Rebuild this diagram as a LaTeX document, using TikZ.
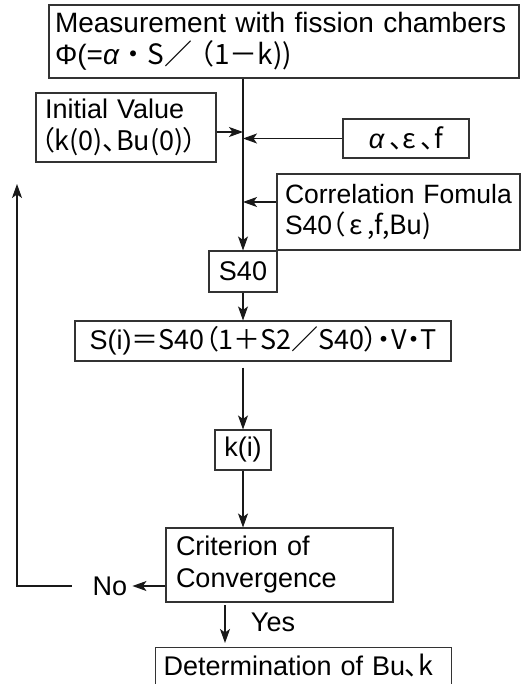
\documentclass[tikz,border=0pt]{standalone}
\usepackage{fontspec}
\setmainfont{Liberation Sans}
\newfontfamily\cjk[RawFeature=+palt]{Noto Sans CJK JP}
\newfontfamily\cjkw{Noto Sans CJK JP}
\usetikzlibrary{arrows.meta}
\newcommand\fsz{\fontsize{27}{32}\selectfont}
\newcommand\fszt{\fontsize{28}{32}\selectfont}
\newcommand\fszs{\fontsize{26.5}{31}\selectfont}

\begin{document}
\begin{tikzpicture}[x=1pt,y=-1pt,
  box/.style={draw=black!80, line width=1.1pt, inner ysep=0pt, font=\fsz, text=black},
  lbox/.style={box, align=left},
  arr/.style={draw=black!90, line width=1.1pt, -{Stealth[length=14pt,width=10pt,inset=3.5pt]}},
  lbl/.style={font=\fsz, inner sep=0pt}]
\useasboundingbox (0,0) rectangle (531,684);
\clip (0,0) rectangle (531,684);
\fill[white] (0,0) rectangle (531,684);

% boxes of the flow
\node[lbox, font=\fszt, minimum width=470pt, minimum height=73pt, inner xsep=6pt, text width=458pt] (meas) at (284,41.5)
  {\mbox{Measurement with fission chambers}\\
   \mbox{Φ(=\textit{α}\cjkw{・}S\cjkw{／}\hspace{-6pt}\cjkw{（}1\cjkw{－}k))}};
\node[lbox, minimum width=180pt, minimum height=69pt, inner xsep=9pt, text width=162pt] (init) at (126,127.5)
  {\mbox{Initial Value}\\ \mbox{\hspace*{-4pt}\cjk{（}k(0)\cjk{、}Bu(0)\cjk{）}}};
\node[box, minimum width=126pt, minimum height=39pt] (alpha) at (406,138.5)
  {\textit{α}\,\cjk{、}\textit{ε}\,\cjk{、}f};
\node[lbox, font=\fszs, minimum width=243pt, minimum height=76pt, inner xsep=8pt, text width=227pt] (corr) at (398.5,212)
  {\mbox{Correlation Fomula}\\ \mbox{S40\cjk{（}\,\textit{ε}\,,f,Bu)}};
\node[box, minimum width=68pt, minimum height=41pt] (s40) at (243,271.5) {S40};
\node[box, minimum width=376pt, minimum height=40pt] (si) at (263,341)
  {S(i)\cjkw{＝}S40\cjk{（}1\cjkw{＋}S2\cjkw{／}S40\cjk{）・}V\cjk{・}T};
\node[box, minimum width=56pt, minimum height=40pt] (ki) at (243,450) {k(i)};
\node[lbox, minimum width=227pt, minimum height=74pt, inner xsep=10pt, text width=207pt] (crit) at (279.5,565)
  {\mbox{Criterion of}\\ \mbox{Convergence}};
\node[lbox, anchor=north west, minimum width=296pt, inner xsep=8pt, text width=280pt,
      inner ysep=8pt, text height=20pt, text depth=40pt] (fin) at (155,647)
  {\mbox{Determination of Bu\cjk{、}k}};

% branch labels
\node[lbl] (no) at (110,586) {No};
\node[lbl] (yes) at (273,622) {Yes};

% junctions on the main line and the loop end
\coordinate (j1) at (243,132);
\coordinate (j3) at (243,202);
\coordinate (loop) at (17,184);
\coordinate (ya) at (225,602);

% connectors
\draw[arr] (meas.south -| s40) -- (s40.north);
\draw[arr] (init.east |- j1) -- (j1);
\draw[arr] (alpha.west) -- (alpha.west -| j1);
\draw[arr] (corr.west |- j3) -- (j3);
\draw[arr] (s40.south) -- (s40.south |- si.north);
\draw[arr, shorten <=6pt] (si.south -| ki.north) -- (ki.north);
\draw[arr] (ki.south) -- (ki.south |- crit.north);
\draw[arr, shorten >=5pt] (crit.west |- no) -- (no.east);
\draw[arr, shorten <=21pt] (no.west) -| (loop);
\draw[arr, shorten <=3pt, shorten >=4pt] (ya) -- (ya |- fin.north);
\end{tikzpicture}
\end{document}
